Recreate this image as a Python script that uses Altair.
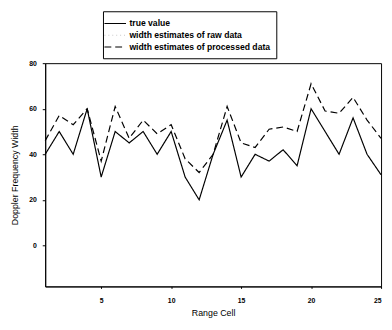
import altair as alt
import pandas as pd

cells = list(range(1, 26))
true_value = [40, 50, 40, 60, 30, 50, 45, 50, 40, 50, 30, 20, 40, 55, 30,
              40, 37, 42, 35, 60, 50, 40, 56, 40, 31]
processed = [46, 57, 53, 60, 37, 61, 47, 55, 49, 53, 38, 32, 40, 61, 45,
             43, 51, 52, 50, 71, 59, 58, 65, 55, 47]

series_names = ["true value", "width estimates of raw data",
                "width estimates of processed data"]

df = pd.concat([
    pd.DataFrame({"cell": cells, "value": true_value, "series": series_names[0]}),
    pd.DataFrame({"cell": cells, "value": processed, "series": series_names[2]}),
])

font = "Liberation Sans"

chart = alt.Chart(df).mark_line(strokeWidth=1.2).encode(
    x=alt.X("cell:Q", title="Range Cell",
            scale=alt.Scale(domain=[1, 25], nice=False, zero=False),
            axis=alt.Axis(values=[5, 10, 15, 20, 25], grid=False,
                          tickSize=2, labelPadding=8, titlePadding=6,
                          labelFontSize=7, labelFontWeight="bold",
                          titleFontSize=9, titleFontWeight="normal")),
    y=alt.Y("value:Q", title="Doppler Frequency Width",
            scale=alt.Scale(domain=[-18, 80], nice=False, zero=False),
            axis=alt.Axis(values=[0, 20, 40, 60, 80], grid=False,
                          tickSize=3, labelPadding=6, titlePadding=9,
                          labelFontSize=7, labelFontWeight="bold",
                          titleFontSize=9, titleFontWeight="normal")),
    color=alt.Color("series:N",
                    scale=alt.Scale(domain=series_names,
                                    range=["black", "#c8c8c8", "black"]),
                    legend=alt.Legend(title=None, orient="none",
                                      legendX=59, legendY=-53,
                                      symbolType="M-2,0H2", symbolSize=121,
                                      symbolStrokeWidth=1.2,
                                      labelFontSize=8.8, labelFontWeight="bold",
                                      labelOffset=8, rowPadding=0,
                                      padding=6, strokeColor="black",
                                      fillColor="white",
                                      labelColor="#000000")),
    strokeDash=alt.StrokeDash("series:N",
                              scale=alt.Scale(domain=series_names,
                                              range=[[1, 0], [1, 3], [7, 4]]),
                              legend=None),
).properties(
    width=343, height=228, padding={"left": 38, "top": 53, "right": 3, "bottom": 33},
    autosize=alt.AutoSizeParams(type="none"),
).configure_view(
    stroke="black", strokeWidth=1
).configure_axis(
    domainColor="black", tickColor="black", labelColor="#000000",
    titleColor="#000000", labelFont=font, titleFont=font
).configure_legend(
    labelFont=font, labelColor="#000000"
)

chart.save("out.html", embed_options={"renderer": "svg", "actions": False})
